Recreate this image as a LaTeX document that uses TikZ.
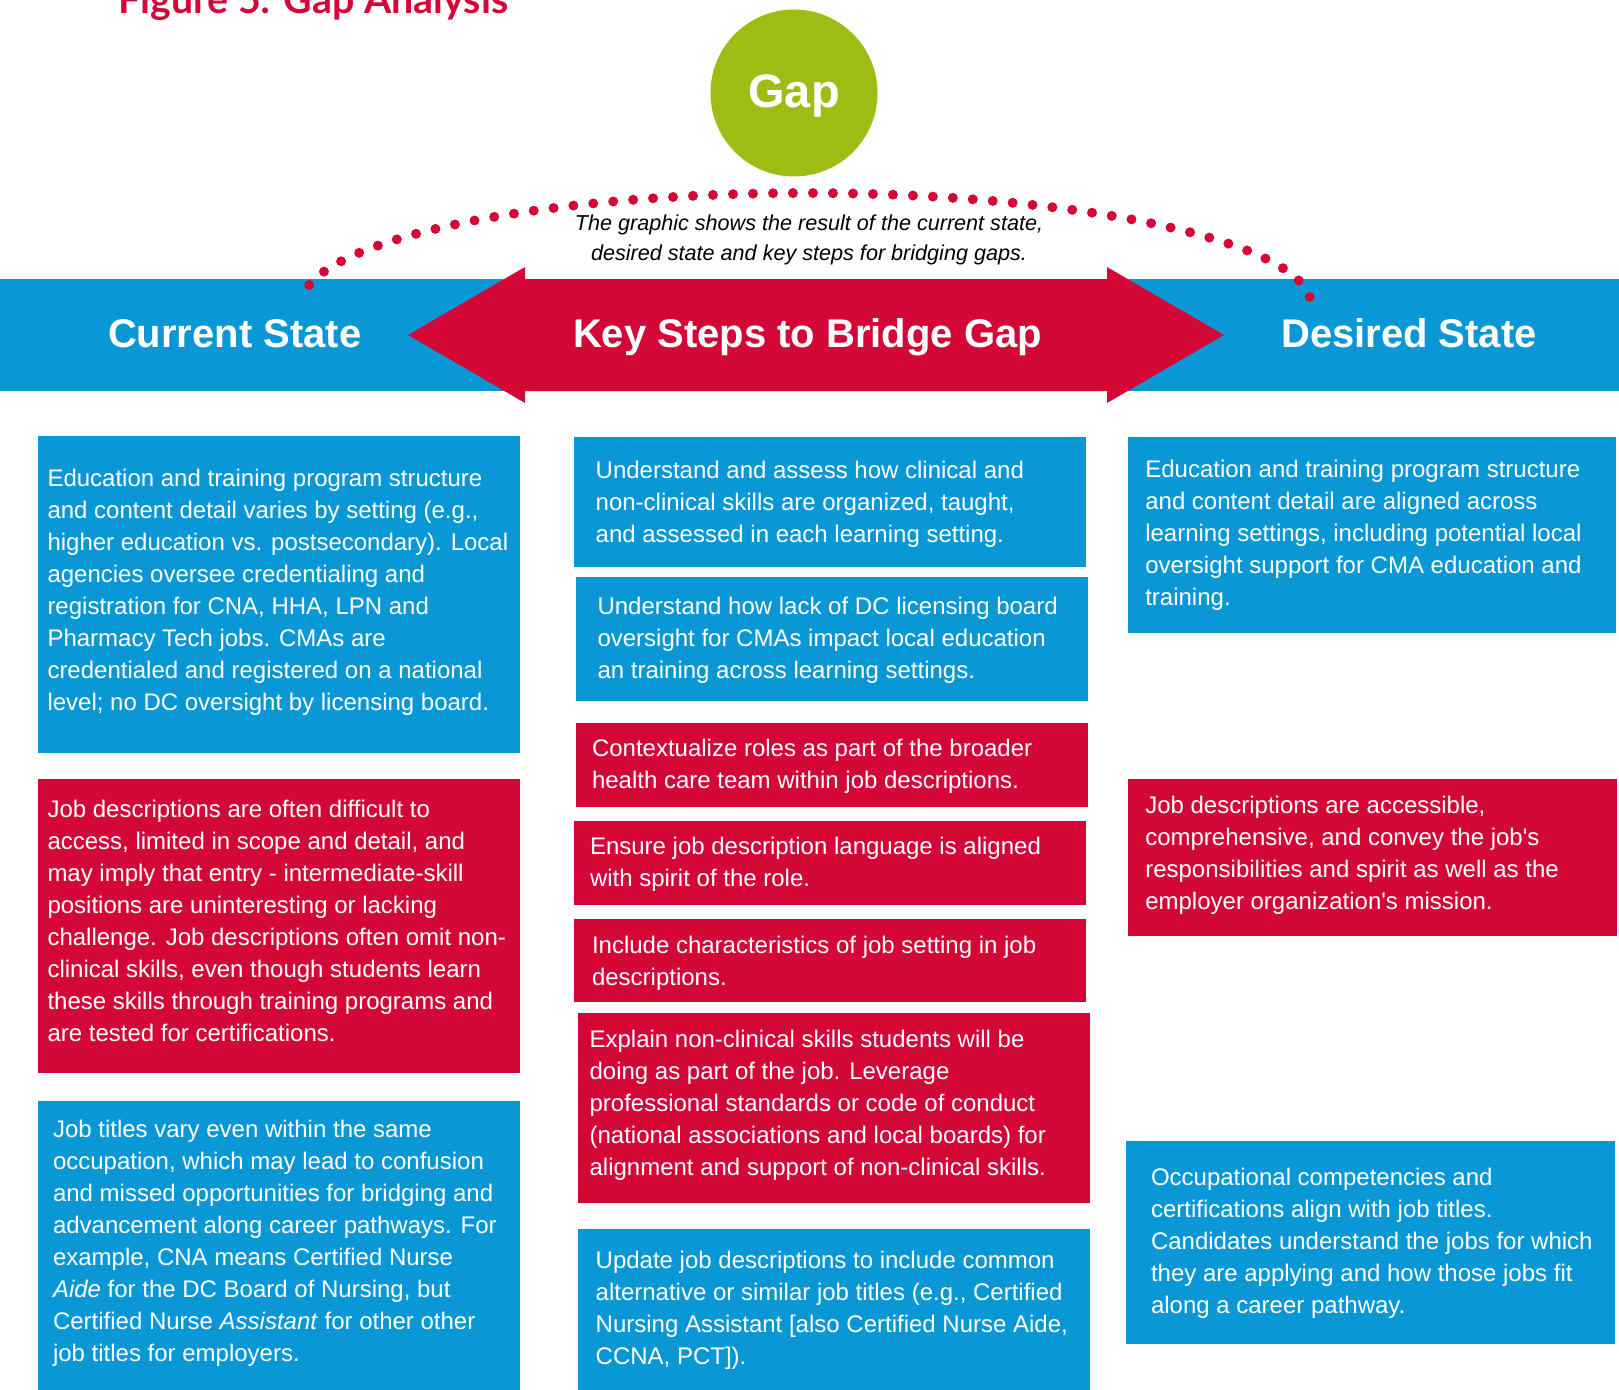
\documentclass[tikz,border=0pt]{standalone}
\usepackage{fontspec}
\usepackage{graphicx}
\setmainfont{Liberation Sans}
\newfontfamily\titlefont{Lato}

\definecolor{gapblue}{RGB}{10,151,213}
\definecolor{gapred}{RGB}{211,8,55}
\definecolor{gapgreen}{RGB}{157,189,20}

% a block of body text with hand-set line breaks, anchored at its first baseline
\newcommand{\paneltext}[1]{\parbox[t]{560pt}{#1}}

\begin{document}
\begin{tikzpicture}[x=1pt,y=-1pt,
  panel/.style={rectangle, draw=none, inner sep=0pt, outer sep=0pt, anchor=north west},
  bluepanel/.style={panel, fill=gapblue},
  redpanel/.style={panel, fill=gapred},
  body/.style={anchor=base west, inner sep=0pt, outer sep=0pt, text=white,
    font=\fontsize{24}{32}\selectfont},
  heading/.style={anchor=base, inner sep=0pt, text=white,
    font=\bfseries\fontsize{40}{48}\selectfont},
  dotted arc/.style={gapred, line width=10pt, line cap=round, dash pattern=on 0pt off 20pt},
]
\useasboundingbox (0,0) rectangle (1619,1389);
\clip (0,0) rectangle (1619,1389);

% title
\node[anchor=base west, inner sep=0pt, text=gapred] (title) at (118,14)
  {\resizebox{390pt}{!}{\titlefont\bfseries\fontsize{36}{40}\selectfont Figure 5: Gap Analysis}};

% the gap
\node[circle, fill=gapgreen, minimum size=167pt, inner sep=0pt] (gap) at (794,93) {};
\node[anchor=base, inner sep=0pt, text=white, font=\bfseries\fontsize{47}{52}\selectfont]
  (gaplabel) at (794,107) {Gap};

% header band and double arrow
\fill[gapblue] (0,279) rectangle (1619,391);
\fill[gapred] (408,335) -- (525,267) -- (525,279) -- (1107,279) -- (1107,267)
  -- (1224,335) -- (1107,403) -- (1107,391) -- (525,391) -- (525,403) -- cycle;

\node[heading] (current) at (234.8,347) {Current State};
\node[heading] (steps) at (807.5,347) {Key Steps to Bridge Gap};
\node[heading] (desired) at (1409,347) {Desired State};

% dotted arch spanning current and desired state
\draw[dotted arc] plot[domain=169.7:4.1, samples=200, smooth]
  ({806+505*cos(\x)}, {305-112*sin(\x)});

\node[anchor=base, inner sep=0pt, font=\itshape\fontsize{21.6}{30}\selectfont]
  (caption) at (809,230.7)
  {\parbox[t]{600pt}{\centering The graphic shows the result of the current state,\\
   desired state and key steps for bridging gaps.}};

% current state column
\node[bluepanel, minimum width=482pt, minimum height=317pt] (cur1) at (38,436) {};
\node[body] (cur1text) at (47.5,486) {\paneltext{%
Education and training program structure\\
and content detail varies by setting (e.g.,\\
higher education vs. postsecondary). Local\\
agencies oversee credentialing and\\
registration for CNA, HHA, LPN and\\
Pharmacy Tech jobs. CMAs are\\
credentialed and registered on a national\\
level; no DC oversight by licensing board.}};

\node[redpanel, minimum width=482pt, minimum height=294pt] (cur2) at (38,779) {};
\node[body] (cur2text) at (47.5,817) {\paneltext{%
Job descriptions are often difficult to\\
access, limited in scope and detail, and\\
may imply that entry - intermediate-skill\\
positions are uninteresting or lacking\\
challenge. Job descriptions often omit non-\\
clinical skills, even though students learn\\
these skills through training programs and\\
are tested for certifications.}};

\node[bluepanel, minimum width=482pt, minimum height=300pt] (cur3) at (38,1101) {};
\node[body] (cur3text) at (53,1137) {\paneltext{%
Job titles vary even within the same\\
occupation, which may lead to confusion\\
and missed opportunities for bridging and\\
advancement along career pathways. For\\
example, CNA means Certified Nurse\\
\textit{Aide} for the DC Board of Nursing, but\\
Certified Nurse \textit{Assistant} for other other\\
job titles for employers.}};

% key steps column
\node[bluepanel, minimum width=512pt, minimum height=130pt] (step1) at (574,437) {};
\node[body] (step1text) at (595.7,478) {\paneltext{%
Understand and assess how clinical and\\
non-clinical skills are organized, taught,\\
and assessed in each learning setting.}};

\node[bluepanel, minimum width=512pt, minimum height=124pt] (step2) at (576,577) {};
\node[body] (step2text) at (597.5,614) {\paneltext{%
Understand how lack of DC licensing board\\
oversight for CMAs impact local education\\
an training across learning settings.}};

\node[redpanel, minimum width=512pt, minimum height=84pt] (step3) at (576,723) {};
\node[body] (step3text) at (592,756) {\paneltext{%
Contextualize roles as part of the broader\\
health care team within job descriptions.}};

\node[redpanel, minimum width=512pt, minimum height=84pt] (step4) at (574,821) {};
\node[body] (step4text) at (590,854) {\paneltext{%
Ensure job description language is aligned\\
with spirit of the role.}};

\node[redpanel, minimum width=512pt, minimum height=83pt] (step5) at (574,919) {};
\node[body] (step5text) at (592,953.5) {\paneltext{%
Include characteristics of job setting in job\\
descriptions.}};

\node[redpanel, minimum width=512pt, minimum height=190pt] (step6) at (578,1013) {};
\node[body] (step6text) at (589.6,1047) {\paneltext{%
Explain non-clinical skills students will be\\
doing as part of the job. Leverage\\
professional standards or code of conduct\\
(national associations and local boards) for\\
alignment and support of non-clinical skills.}};

\node[bluepanel, minimum width=512pt, minimum height=172pt] (step7) at (578,1229) {};
\node[body] (step7text) at (595.7,1268.5) {\paneltext{%
Update job descriptions to include common\\
alternative or similar job titles (e.g., Certified\\
Nursing Assistant [also Certified Nurse Aide,\\
CCNA, PCT]).}};

% desired state column
\node[bluepanel, minimum width=488pt, minimum height=196.5pt] (des1) at (1128,436.5) {};
\node[body] (des1text) at (1145.3,477) {\paneltext{%
Education and training program structure\\
and content detail are aligned across\\
learning settings, including potential local\\
oversight support for CMA education and\\
training.}};

\node[redpanel, minimum width=489pt, minimum height=156.5pt] (des2) at (1128,779) {};
\node[body] (des2text) at (1145.3,813) {\paneltext{%
Job descriptions are accessible,\\
comprehensive, and convey the job\textquotesingle s\\
responsibilities and spirit as well as the\\
employer organization\textquotesingle s mission.}};

\node[bluepanel, minimum width=489pt, minimum height=203pt] (des3) at (1126,1141) {};
\node[body] (des3text) at (1151,1185) {\paneltext{%
Occupational competencies and\\
certifications align with job titles.\\
Candidates understand the jobs for which\\
they are applying and how those jobs fit\\
along a career pathway.}};
\end{tikzpicture}
\end{document}
